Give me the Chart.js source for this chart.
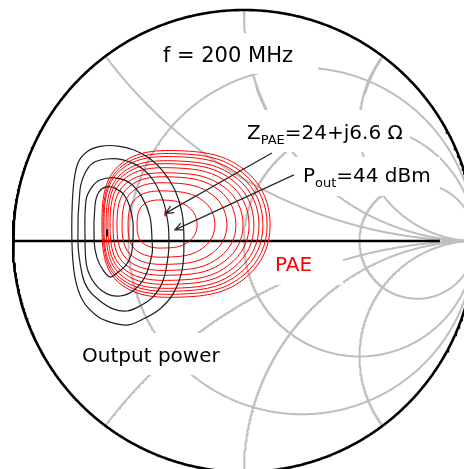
<!DOCTYPE html>
<html>
<head>
<meta charset="utf-8">
<script src="https://cdn.jsdelivr.net/npm/chart.js@4.4.1/dist/chart.umd.min.js"></script>
<style>
  html, body { margin: 0; padding: 0; background: #fff; overflow: hidden; }
  canvas { display: block; }
</style>
</head>
<body>
<canvas id="smith" width="464" height="469"></canvas>
<script>
// Load-pull contours at 200 MHz on a Smith chart (reflection-coefficient plane, Re/Im of Γ)
const frequencyText = 'f = 200 MHz';
const Z0 = 50;
const zPae = [24, 6.6];          // optimum PAE load, ohms
const poutAtZPae = 44;           // dBm

// Smith chart grid values (normalised)
const resistanceValues = [1 / 3, 1, 3];
const reactanceValues = [0.5, 1, 2, -0.5, -1, -2];

// PAE contours, innermost first: [Re Γ, Im Γ]
const paeContours = [
  [[-0.463,0.069],[-0.437,0.156],[-0.342,0.177],[-0.240,0.147],[-0.203,0.069],[-0.240,-0.003],[-0.333,-0.030],[-0.437,-0.010]],
  [[-0.502,0.069],[-0.465,0.187],[-0.323,0.216],[-0.178,0.175],[-0.126,0.069],[-0.178,-0.030],[-0.314,-0.069],[-0.465,-0.042]],
  [[-0.528,0.069],[-0.483,0.215],[-0.310,0.251],[-0.137,0.200],[-0.074,0.069],[-0.137,-0.052],[-0.301,-0.100],[-0.483,-0.066]],
  [[-0.550,0.069],[-0.498,0.235],[-0.301,0.277],[-0.107,0.219],[-0.035,0.069],[-0.107,-0.071],[-0.292,-0.126],[-0.498,-0.087]],
  [[-0.567,0.069],[-0.511,0.249],[-0.294,0.294],[-0.083,0.231],[-0.004,0.069],[-0.083,-0.087],[-0.286,-0.147],[-0.511,-0.104]],
  [[-0.580,0.069],[-0.520,0.267],[-0.288,0.316],[-0.063,0.247],[0.022,0.069],[-0.063,-0.102],[-0.279,-0.169],[-0.520,-0.121]],
  [[-0.589,0.069],[-0.526,0.281],[-0.281,0.333],[-0.045,0.259],[0.043,0.069],[-0.045,-0.115],[-0.273,-0.186],[-0.526,-0.135]],
  [[-0.597,0.069],[-0.531,0.291],[-0.275,0.346],[-0.028,0.269],[0.065,0.069],[-0.028,-0.127],[-0.266,-0.203],[-0.531,-0.149]],
  [[-0.606,0.069],[-0.537,0.305],[-0.271,0.364],[-0.014,0.281],[0.082,0.069],[-0.014,-0.136],[-0.262,-0.216],[-0.537,-0.159]],
  [[-0.610,0.069],[-0.539,0.315],[-0.264,0.377],[0.000,0.290],[0.100,0.069],[0.000,-0.146],[-0.255,-0.229],[-0.539,-0.170]],
  [[-0.615,0.069],[-0.542,0.326],[-0.260,0.390],[0.011,0.300],[0.113,0.069],[0.011,-0.155],[-0.251,-0.242],[-0.542,-0.180]]
];

// Output power contours, innermost first: [Re Γ, Im Γ]
const poutContours = [
  [[-0.649,0],[-0.645,0.156],[-0.628,0.212],[-0.597,0.234],[-0.558,0.229],[-0.519,0.199],[-0.494,0.147],[-0.481,0.082],[-0.481,0],[-0.489,-0.061],[-0.511,-0.104],[-0.550,-0.139],[-0.580,-0.156],[-0.610,-0.126],[-0.636,-0.074]],
  [[-0.688,0],[-0.684,0.177],[-0.658,0.234],[-0.623,0.264],[-0.558,0.273],[-0.494,0.251],[-0.442,0.190],[-0.407,0.104],[-0.398,0],[-0.398,-0.056],[-0.429,-0.156],[-0.481,-0.216],[-0.537,-0.238],[-0.593,-0.229],[-0.645,-0.186],[-0.680,-0.113]],
  [[-0.719,0],[-0.710,0.221],[-0.688,0.294],[-0.654,0.338],[-0.593,0.355],[-0.524,0.351],[-0.450,0.320],[-0.394,0.264],[-0.351,0.177],[-0.329,0.078],[-0.325,0],[-0.329,-0.069],[-0.351,-0.173],[-0.394,-0.242],[-0.450,-0.281],[-0.506,-0.303],[-0.567,-0.294],[-0.623,-0.260],[-0.675,-0.208],[-0.701,-0.143]],
  [[-0.745,0],[-0.740,0.221],[-0.719,0.338],[-0.675,0.390],[-0.615,0.411],[-0.545,0.411],[-0.476,0.394],[-0.411,0.359],[-0.351,0.303],[-0.299,0.221],[-0.268,0.121],[-0.260,0],[-0.268,-0.126],[-0.307,-0.229],[-0.364,-0.294],[-0.437,-0.338],[-0.506,-0.364],[-0.580,-0.351],[-0.636,-0.325],[-0.697,-0.260],[-0.732,-0.156]]
];

const poutMaxPoint = [-0.593, 0.035];
const poutArrowTarget = [-0.299, 0.048];

// ---- layout (Γ-plane units) ----
const VIEW = { xMin: -1.0563, xMax: 0.9524, yMin: -0.987, yMax: 1.0433 };
const AXIS_END = 0.848;
// white backgrounds behind the text boxes: [x1, x2, yTop, yBottom]
const textBoxes = [
  [-0.407, 0.320, 0.900, 0.723],
  [-0.017, 0.719, 0.567, 0.385],
  [0.216, 0.848, 0.364, 0.195],
  [0.104, 0.429, -0.022, -0.190],
  [-0.732, -0.017, -0.398, -0.580]
];
const labelAnchors = {
  freq: [-0.351, 0.775],
  zpae: [0.013, 0.442],
  zpaeArrowStart: [0.121, 0.381],
  pout: [0.255, 0.255],
  poutArrowStart: [0.216, 0.286],
  pae: [0.134, -0.130],
  outputPower: [-0.701, -0.524]
};

// ---- helpers ----
function zToGamma(r, x) {
  const den = (r + 1) * (r + 1) + x * x;
  return { x: (r * r - 1 + x * x) / den, y: (2 * x) / den };
}
function resistanceCircle(r) {
  const pts = [];
  for (let i = 1; i < 600; i++) {
    const t = -Math.PI / 2 + Math.PI * i / 600;
    pts.push(zToGamma(r, Math.tan(t)));
  }
  return pts;
}
function reactanceArc(x) {
  const pts = [];
  for (let i = 0; i < 400; i++) {
    const t = (Math.PI / 2) * i / 400;
    pts.push(zToGamma(Math.tan(t), x));
  }
  return pts;
}
function unitCircle() {
  const pts = [];
  for (let i = 0; i <= 720; i++) {
    const a = 2 * Math.PI * i / 720;
    pts.push({ x: Math.cos(a), y: Math.sin(a) });
  }
  return pts;
}
// closed smooth loop: wrap neighbours on both ends and hide the two duplicated end segments
function loopDataset(pts, color, width, tension) {
  const n = pts.length;
  const seq = [pts[n - 1], ...pts, pts[0], pts[1]].map(p => ({ x: p[0], y: p[1] }));
  return {
    data: seq, showLine: true, pointRadius: 0, borderWidth: width, tension,
    borderColor: color, fill: false, order: 1,
    segment: {
      borderColor: c => (c.p0DataIndex === 0 || c.p0DataIndex === n + 1) ? 'rgba(0,0,0,0)' : color
    }
  };
}

const zn = [zPae[0] / Z0, zPae[1] / Z0];
const gPae = zToGamma(zn[0], zn[1]);

const datasets = [];
const GRID = '#bebebe';
resistanceValues.forEach(r => datasets.push({
  data: resistanceCircle(r), showLine: true, pointRadius: 0, borderColor: GRID, borderWidth: 2, order: 10
}));
reactanceValues.forEach(x => datasets.push({
  data: reactanceArc(x), showLine: true, pointRadius: 0, borderColor: GRID, borderWidth: 2, order: 10
}));
datasets.push({ data: unitCircle(), showLine: true, pointRadius: 0, borderColor: '#000', borderWidth: 2.6, order: 2 });
datasets.push({ data: [{ x: -1, y: 0 }, { x: AXIS_END, y: 0 }], showLine: true, pointRadius: 0, borderColor: '#000', borderWidth: 2.6, order: 2 });
poutContours.forEach(c => datasets.push(loopDataset(c, '#1e1e1e', 1.2, 0.35)));
paeContours.forEach(c => datasets.push(loopDataset(c, '#ff0000', 1, 0.4)));
datasets.push({
  data: [{ x: poutMaxPoint[0], y: poutMaxPoint[1] }], pointStyle: 'line', rotation: 90, pointRadius: 3.5,
  borderColor: '#000', borderWidth: 2, showLine: false, order: 0
});
datasets.push({
  data: [gPae], pointStyle: 'line', rotation: 90, pointRadius: 3, borderColor: '#ff0000', borderWidth: 1.6,
  showLine: false, order: 0
});

function drawArrow(ctx, x0, y0, x1, y1) {
  const ang = Math.atan2(y1 - y0, x1 - x0);
  const L = 9, spread = 0.42;
  ctx.beginPath();
  ctx.moveTo(x0, y0); ctx.lineTo(x1, y1);
  ctx.moveTo(x1 - L * Math.cos(ang - spread), y1 - L * Math.sin(ang - spread));
  ctx.lineTo(x1, y1);
  ctx.lineTo(x1 - L * Math.cos(ang + spread), y1 - L * Math.sin(ang + spread));
  ctx.stroke();
}
function drawRuns(ctx, x, y, runs, color) {
  ctx.fillStyle = color;
  ctx.textBaseline = 'alphabetic';
  ctx.textAlign = 'left';
  let cx = x;
  runs.forEach(r => {
    ctx.font = r.size + 'px "DejaVu Sans", sans-serif';
    ctx.fillText(r.t, cx, y + (r.dy || 0));
    cx += ctx.measureText(r.t).width;
  });
}

const overlay = {
  id: 'overlay',
  beforeDatasetsDraw(chart) { chart.$boxesDone = false; },
  beforeDatasetDraw(chart, args) {
    if (chart.$boxesDone) return;
    const ds = chart.data.datasets[args.index];
    if ((ds.order || 0) >= 10) return;
    chart.$boxesDone = true;
    const { ctx, scales: { x, y } } = chart;
    ctx.save();
    ctx.fillStyle = '#ffffff';
    textBoxes.forEach(b => {
      const x1 = x.getPixelForValue(b[0]), x2 = x.getPixelForValue(b[1]);
      const y1 = y.getPixelForValue(b[2]), y2 = y.getPixelForValue(b[3]);
      ctx.fillRect(x1, y1, x2 - x1, y2 - y1);
    });
    ctx.restore();
  },
  afterDatasetsDraw(chart) {
    const { ctx, scales: { x, y } } = chart;
    const P = a => [x.getPixelForValue(a[0]), y.getPixelForValue(a[1])];
    ctx.save();
    ctx.strokeStyle = '#2a2a2a';
    ctx.lineWidth = 1.3;
    const s1 = P(labelAnchors.zpaeArrowStart);
    const t1 = [x.getPixelForValue(gPae.x), y.getPixelForValue(gPae.y)];
    drawArrow(ctx, s1[0], s1[1], t1[0], t1[1]);
    const s2 = P(labelAnchors.poutArrowStart);
    const t2 = P(poutArrowTarget);
    drawArrow(ctx, s2[0], s2[1], t2[0], t2[1]);

    let a = P(labelAnchors.freq);
    drawRuns(ctx, a[0], a[1], [{ t: frequencyText, size: 21 }], '#000');
    a = P(labelAnchors.zpae);
    drawRuns(ctx, a[0], a[1], [
      { t: 'Z', size: 20 }, { t: 'PAE', size: 13, dy: 5 },
      { t: '=' + zPae[0] + '+j' + zPae[1] + ' \u03A9', size: 20 }
    ], '#000');
    a = P(labelAnchors.pout);
    drawRuns(ctx, a[0], a[1], [
      { t: 'P', size: 20 }, { t: 'out', size: 13, dy: 5 },
      { t: '=' + poutAtZPae + ' dBm', size: 20 }
    ], '#000');
    a = P(labelAnchors.pae);
    drawRuns(ctx, a[0], a[1], [{ t: 'PAE', size: 20 }], '#ff0000');
    a = P(labelAnchors.outputPower);
    drawRuns(ctx, a[0], a[1], [{ t: 'Output power', size: 20 }], '#000');
    ctx.restore();
  }
};

new Chart(document.getElementById('smith'), {
  type: 'scatter',
  data: { datasets },
  options: {
    responsive: false,
    animation: false,
    events: [],
    layout: { padding: 0, autoPadding: false },
    plugins: { legend: { display: false }, tooltip: { enabled: false } },
    scales: {
      x: { type: 'linear', display: false, min: VIEW.xMin, max: VIEW.xMax },
      y: { type: 'linear', display: false, min: VIEW.yMin, max: VIEW.yMax }
    }
  },
  plugins: [overlay]
});
</script>
</body>
</html>
